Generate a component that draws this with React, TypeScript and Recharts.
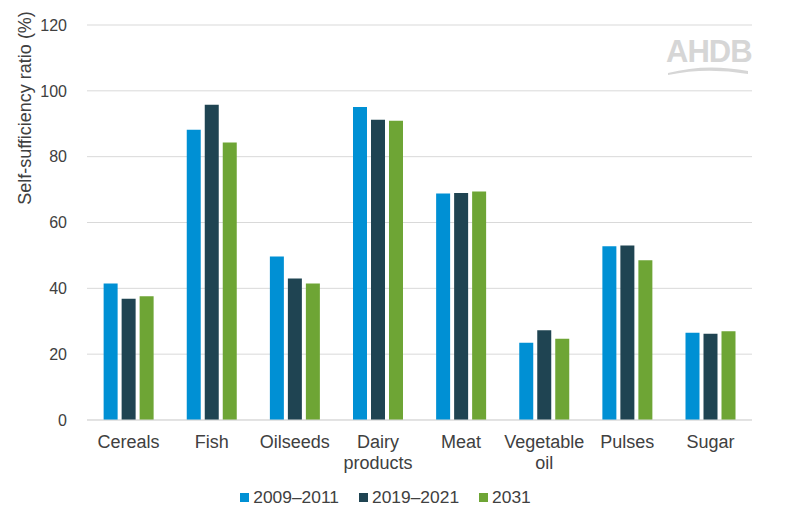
import React from 'react';
import { BarChart, Bar, XAxis, YAxis, CartesianGrid, Legend } from 'recharts';

const categories = ['Cereals', 'Fish', 'Oilseeds', 'Dairy products', 'Meat', 'Vegetable oil', 'Pulses', 'Sugar'];
const period2009 = [41.5, 88.2, 49.7, 95.1, 68.8, 23.5, 52.8, 26.5];
const period2019 = [36.8, 95.8, 43.0, 91.2, 69.0, 27.3, 53.0, 26.2];
const period2031 = [37.6, 84.3, 41.5, 90.9, 69.4, 24.7, 48.5, 27.0];
const yTicks = [0, 20, 40, 60, 80, 100, 120];

const series = [
  { key: 'p2009', name: '2009–2011', color: '#0090D4' },
  { key: 'p2019', name: '2019–2021', color: '#1F4452' },
  { key: 'p2031', name: '2031', color: '#6EA535' },
];

const data = categories.map((c, i) => ({
  category: c,
  p2009: period2009[i],
  p2019: period2019[i],
  p2031: period2031[i],
}));

const FONT = '"Liberation Sans", Arial, sans-serif';
const TEXT = '#404040';

function CategoryTick(props: any) {
  const { x, y, payload } = props;
  const lines = payload.value.includes(' ') ? payload.value.split(' ') : [payload.value];
  return (
    <text x={x} y={y} textAnchor="middle" fill={TEXT} fontSize={18} fontFamily={FONT}>
      {lines.map((l: string, i: number) => (
        <tspan key={i} x={x} dy={i === 0 ? 20 : 21}>{l}</tspan>
      ))}
    </text>
  );
}

function YLabel() {
  return (
    <text
      x={25}
      y={108}
      transform="rotate(-90, 25, 108)"
      textAnchor="middle"
      dominantBaseline="central"
      fill={TEXT}
      fontSize={18}
      fontFamily={FONT}
    >
      Self-sufficiency ratio (%)
    </text>
  );
}

function LegendContent() {
  return (
    <div style={{ display: 'flex', justifyContent: 'center', fontFamily: FONT, fontSize: 17.4, color: TEXT, paddingRight: 34 }}>
      {series.map((s) => (
        <div key={s.key} style={{ display: 'flex', alignItems: 'center', margin: '0 10px' }}>
          <span style={{ width: 9, height: 9, background: s.color, display: 'inline-block', marginRight: 4 }} />
          <span>{s.name}</span>
        </div>
      ))}
    </div>
  );
}

export default function App() {
  return (
    <div style={{ position: 'absolute', left: 0, top: 0, width: 805, height: 516, background: '#fff' }}>
      <BarChart
        width={805}
        height={516}
        data={data}
        margin={{ top: 25, right: 53, left: 37, bottom: 40 }}
        barCategoryGap="20%"
        barGap={4}
      >
        <CartesianGrid vertical={false} stroke="#d9d9d9" />
        <XAxis
          dataKey="category"
          axisLine={{ stroke: '#d9d9d9' }}
          tickLine={false}
          tick={<CategoryTick />}
          interval={0}
          height={35}
        />
        <YAxis
          domain={[0, 120]}
          ticks={yTicks}
          axisLine={false}
          tickLine={false}
          width={50}
          tickMargin={14}
          tick={{ fill: TEXT, fontSize: 16, fontFamily: FONT }}
          label={<YLabel />}
        />
        <Legend
          content={<LegendContent />}
          wrapperStyle={{ position: 'absolute', top: 487, left: 0, width: 805 }}
        />
        {series.map((s) => (
          <Bar key={s.key} dataKey={s.key} name={s.name} fill={s.color} isAnimationActive={false} />
        ))}
      </BarChart>
      <div style={{ position: 'absolute', left: 666, top: 36, width: 85, height: 44, pointerEvents: 'none' }}>
        <div style={{ fontFamily: FONT, fontSize: 31, fontWeight: 'bold', color: '#d6d6d6', letterSpacing: -1, lineHeight: '32px' }}>AHDB</div>
        <svg width={85} height={12} style={{ position: 'absolute', top: 29, left: 0 }}>
          <path d="M2 8 Q 40 -2 82 6 L 82 9 Q 40 2 2 10 Z" fill="#d6d6d6" />
        </svg>
      </div>
    </div>
  );
}
